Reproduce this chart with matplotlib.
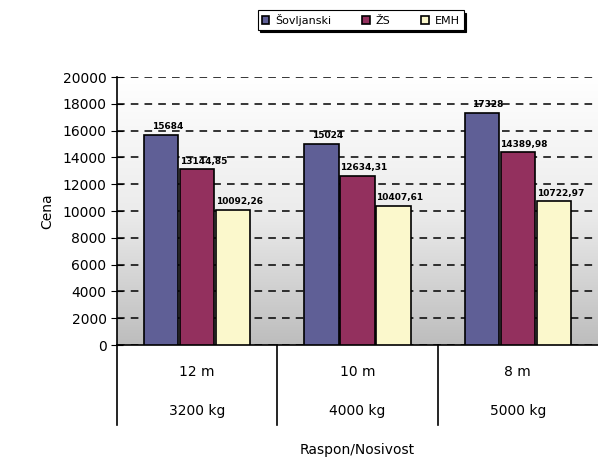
import matplotlib.pyplot as plt
import numpy as np

# data
spans = ['12 m', '10 m', '8 m']
loads = ['3200 kg', '4000 kg', '5000 kg']
series = ['Šovljanski', 'ŽS', 'EMH']
sovljanski = [15684, 15024, 17328]
zs = [13144.85, 12634.31, 14389.98]
emh = [10092.26, 10407.61, 10722.97]
colors = ['#5f5f96', '#93305e', '#fbf8cc']


def fmt(v):
    if float(v).is_integer():
        return '%d' % v
    return ('%.2f' % v).replace('.', ',')


fig = plt.figure(figsize=(5.98, 4.57), dpi=100)
ax = fig.add_axes([0.1957, 0.245, 0.8043, 0.5865])

# gradient background: white at top, grey at bottom
grad = np.linspace(0, 1, 256).reshape(-1, 1)
ax.imshow(grad, cmap=plt.cm.colors.LinearSegmentedColormap.from_list(
    'bg', ['#bdbdbd', '#ececec', '#ffffff']), aspect='auto',
    extent=[-0.5, 2.5, 0, 20000], origin='lower', zorder=0)

x = np.arange(len(spans))
w = 0.215
for i, (vals, col) in enumerate(zip([sovljanski, zs, emh], colors)):
    pos = x + (i - 1) * (w + 0.01)
    ax.bar(pos, vals, width=w, color=col, edgecolor='black', linewidth=1.2,
           zorder=3, label=series[i])
    for p, v in zip(pos, vals):
        ax.text(p + 0.04, v + 250, fmt(v), ha='center', va='bottom',
                fontsize=6.5, fontweight='bold', zorder=4)

ax.set_xlim(-0.5, 2.5)
ax.set_ylim(0, 20000)
ax.set_yticks(np.arange(0, 20001, 2000))
ax.yaxis.grid(True, linestyle=(0, (5, 4)), color='black', linewidth=1.1)
ax.set_axisbelow(False)
ax.tick_params(axis='y', direction='inout', length=8, labelsize=10)
ax.set_xticks([])
for s in ['top', 'right']:
    ax.spines[s].set_visible(False)
ax.spines['left'].set_linewidth(1.2)
ax.spines['bottom'].set_linewidth(1.2)
ax.set_ylabel('Cena', fontsize=10, labelpad=6)

# two level category labels
trans = ax.get_xaxis_transform()
for i in range(len(spans)):
    ax.text(x[i], -0.1, spans[i], transform=trans, ha='center', va='center', fontsize=10)
    ax.text(x[i], -0.245, loads[i], transform=trans, ha='center', va='center', fontsize=10)
for b in [-0.5, 0.5, 1.5]:
    ax.plot([b, b], [0, -0.3], transform=trans, color='black', linewidth=1.2, clip_on=False)
ax.text(1.0, -0.39, 'Raspon/Nosivost', transform=trans, ha='center', va='center', fontsize=10)

leg = fig.legend(loc='center', bbox_to_anchor=(0.603, 0.957), ncol=3, fontsize=8,
                 frameon=True, fancybox=False, handlelength=0.7, handleheight=0.7,
                 handletextpad=0.5, columnspacing=2.8, borderpad=0.35,
                 edgecolor='black', shadow={'color': 'black', 'alpha': 1})
leg.get_frame().set_linewidth(0.8)

fig.savefig('out.png', dpi=100)
